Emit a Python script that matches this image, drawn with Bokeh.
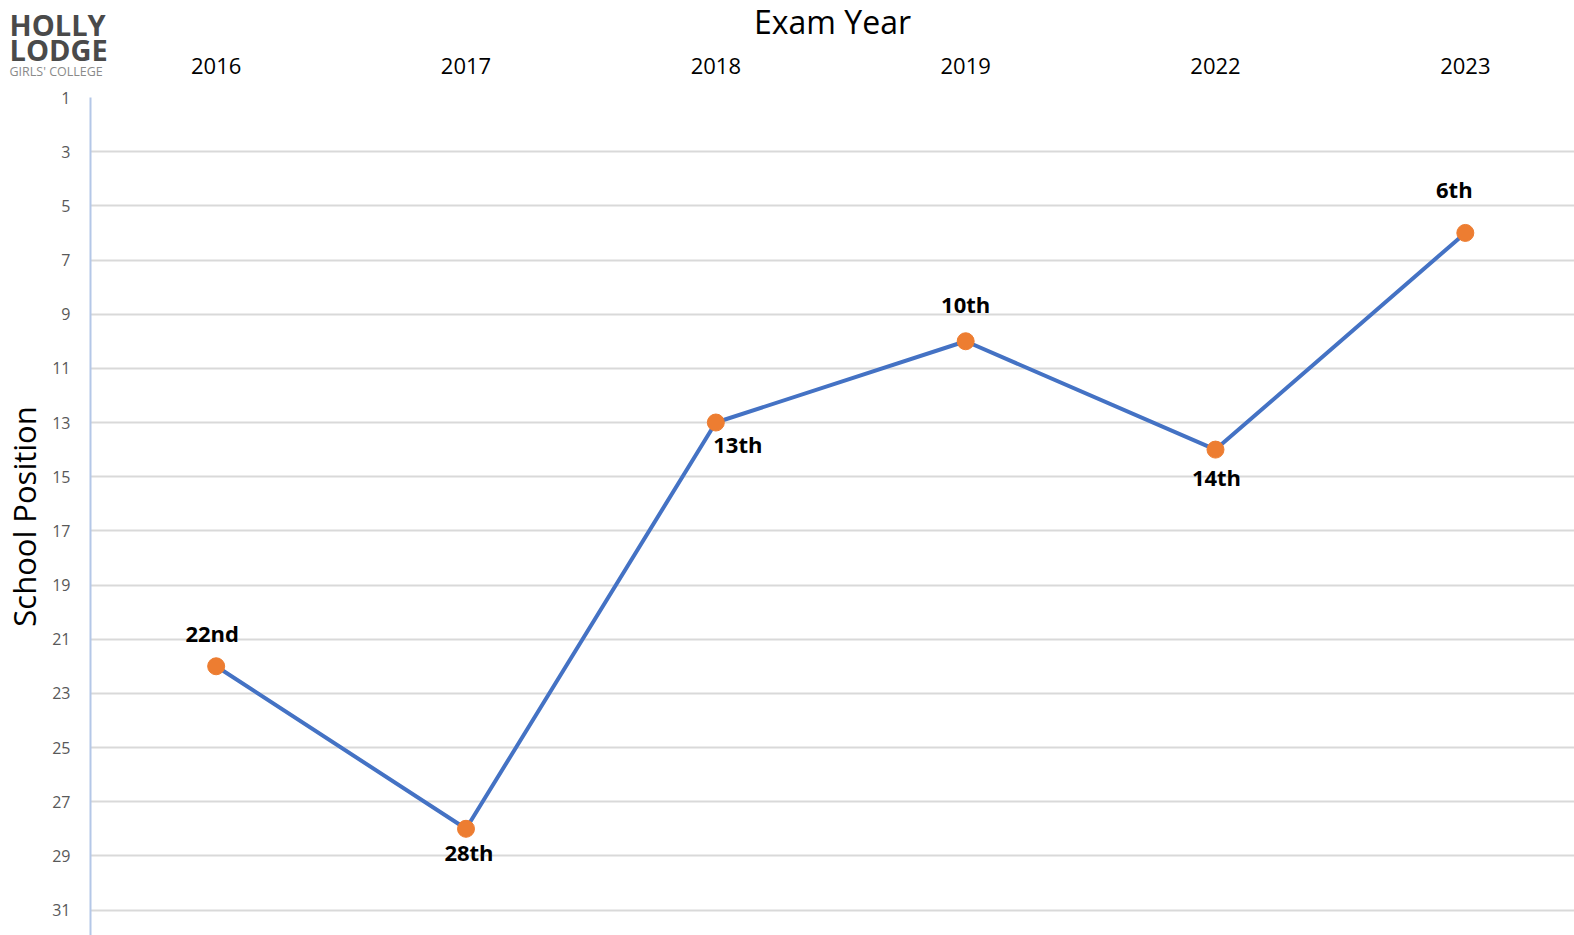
from bokeh.plotting import figure
from bokeh.models import Range1d, FixedTicker, ColumnDataSource, LinearAxis, Div
from bokeh.layouts import column
from bokeh.core.properties import value
from bokeh.embed import file_html
from bokeh.resources import INLINE

years = ["2016", "2017", "2018", "2019", "2022", "2023"]
positions = [22, 28, 13, 10, 14, 6]
rank_labels = ["22nd", "28th", "13th", "10th", "14th", "6th"]
y_ticks = list(range(1, 32, 2))

# label placement (screen px offsets, positive = down)
label_dx = [-4, 3, 22, 0, 1, -11]
label_dy = [-33, 23, 21, -37, 27, -44]

# logo texts
logo_text = ["HOLLY", "LODGE", "GIRLS' COLLEGE"]

xs = list(range(len(years)))
src = ColumnDataSource(dict(x=xs, y=positions, lab=rank_labels, dx=label_dx, dy=label_dy))

FONT = "Open Sans"
LOGO_H = 85
EXTRA = 7  # figure starts EXTRA px above the page top
p = figure(width=1574, height=935 + EXTRA, output_backend="svg", toolbar_location=None,
           x_range=Range1d(-0.503, 5.437), y_range=Range1d(31.94, 1),
           x_axis_location=None, y_axis_location="left",
           min_border_left=90, min_border_right=0, min_border_top=97 + EXTRA,
           min_border_bottom=0)
p.outline_line_color = None
p.background_fill_color = None
p.border_fill_color = None

# top axis
xa = LinearAxis(ticker=FixedTicker(ticks=xs),
                major_label_overrides={i: y for i, y in enumerate(years)})
xa.axis_label = "Exam Year"
xa.axis_label_text_font = FONT
xa.axis_label_text_font_size = "32px"
xa.axis_label_text_font_style = "normal"
xa.axis_label_text_color = "black"
xa.axis_label_standoff = 12
xa.major_label_text_font = FONT
xa.major_label_text_font_size = "22px"
xa.major_label_text_color = "black"
xa.major_label_standoff = 18
xa.axis_line_color = None
xa.major_tick_line_color = None
xa.minor_tick_line_color = None
p.add_layout(xa, "above")

ya = p.yaxis[0]
ya.ticker = FixedTicker(ticks=y_ticks)
ya.axis_label = "School Position"
ya.axis_label_text_font = FONT
ya.axis_label_text_font_size = "31px"
ya.axis_label_text_font_style = "normal"
ya.axis_label_text_color = "black"
ya.axis_label_standoff = 4
ya.major_label_text_font = FONT
ya.major_label_text_font_size = "16px"
ya.major_label_text_color = "#595959"
ya.major_label_standoff = 14
ya.axis_line_color = "#b4c7e7"
ya.axis_line_width = 2
ya.major_tick_line_color = None
ya.minor_tick_line_color = None

p.xgrid.grid_line_color = None
p.ygrid.ticker = FixedTicker(ticks=y_ticks)
p.ygrid.grid_line_color = "#d9d9d9"
p.ygrid.grid_line_width = 2

p.line("x", "y", source=src, line_color="#4472C4", line_width=4)
p.scatter("x", "y", source=src, size=17, fill_color="#ED7D31", line_color="#ED7D31")
p.text("x", "y", text="lab", source=src, x_offset="dx", y_offset="dy",
       text_font=value(FONT), text_font_style="bold", text_font_size="22px",
       text_color="black", text_align="center", text_baseline="middle")

# logo in its own small figure (pixel-like coordinates, y downwards)
logo = figure(width=120, height=LOGO_H, output_backend="svg", toolbar_location=None,
              x_range=Range1d(0, 120), y_range=Range1d(LOGO_H, 0),
              min_border=0, x_axis_location=None, y_axis_location=None)
logo.outline_line_color = None
logo.background_fill_color = None
logo.border_fill_color = None
logo.xgrid.visible = False
logo.ygrid.visible = False
logo_src = ColumnDataSource(dict(x=[9, 9, 9], y=[23.5, 48.5, 70.5], t=logo_text,
                                 size=["29px", "29px", "12.5px"],
                                 style=["bold", "bold", "normal"],
                                 color=["#4a4a4a", "#4a4a4a", "#8a8a8a"]))
logo.text("x", "y", text="t", source=logo_src, text_font=value(FONT),
          text_font_size="size", text_font_style="style", text_color="color",
          text_align="left", text_baseline="middle")

try:
    logo.frame_align = False
    p.frame_align = False
    logo_obj = logo
except Exception:
    html = ("<div style=\"position:relative;width:120px;height:85px;font-family:'Open Sans';\">"
            "<div style='position:absolute;left:9px;top:6px;font-size:29px;font-weight:bold;"
            "color:#4a4a4a;line-height:1;'>%s</div>"
            "<div style='position:absolute;left:9px;top:31px;font-size:29px;font-weight:bold;"
            "color:#4a4a4a;line-height:1;'>%s</div>"
            "<div style='position:absolute;left:9px;top:64px;font-size:12.5px;"
            "color:#8a8a8a;line-height:1;'>%s</div></div>") % tuple(logo_text)
    logo_obj = Div(text=html, width=120, height=LOGO_H)

p.margin = (-(LOGO_H + EXTRA), 0, 0, 0)
page = column(logo_obj, p, spacing=0)

open("out.html", "w").write(file_html(page, INLINE))
